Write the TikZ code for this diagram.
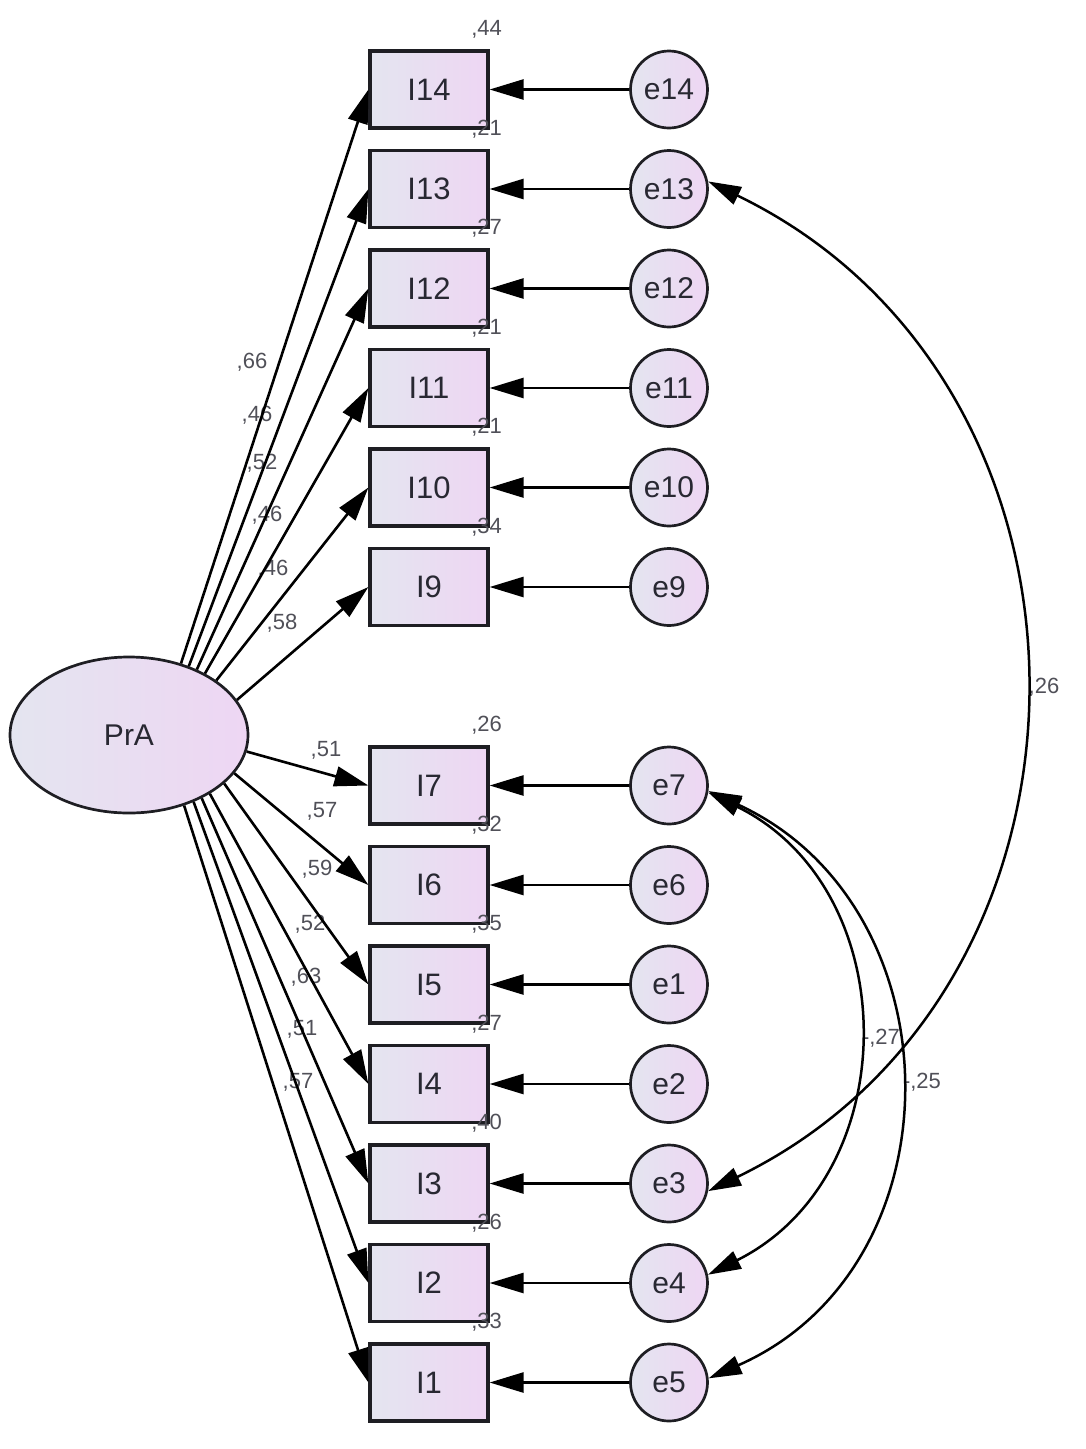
\documentclass[tikz,border=0pt]{standalone}
\usepackage{fontspec}
\setmainfont{Liberation Sans}
\usetikzlibrary{arrows.meta,calc,shapes.geometric}
\definecolor{fillL}{RGB}{228,229,240}
\definecolor{fillR}{RGB}{238,214,243}
\definecolor{edgec}{RGB}{30,30,35}
\definecolor{txtc}{RGB}{40,40,50}
\definecolor{labc}{RGB}{80,80,88}
\begin{document}
\begin{tikzpicture}[x=1pt,y=-1pt,
  obs/.style={draw=edgec, line width=3.2pt, rectangle, minimum width=118pt, minimum height=77pt, inner sep=0pt, left color=fillL, right color=fillR, text=txtc, font=\fontsize{31}{36}\selectfont},
  err/.style={draw=edgec, line width=2.7pt, circle, minimum size=77pt, inner sep=0pt, left color=fillL, right color=fillR, text=txtc, font=\fontsize{30}{36}\selectfont},
  lat/.style={draw=edgec, line width=2.7pt, ellipse, minimum width=238pt, minimum height=156pt, inner sep=0pt, left color=fillL, right color=fillR, text=txtc, font=\fontsize{30}{36}\selectfont},
  arr/.style={line width=2.6pt, draw=black, -{Triangle[length=34pt,width=20pt]}},
  darr/.style={line width=2.5pt, draw=black, {Triangle[length=33pt,width=19pt]}-{Triangle[length=33pt,width=19pt]}},
  lab/.style={text=labc, font=\fontsize{22}{24}\selectfont, inner sep=0pt}
]
\useasboundingbox (0,0) rectangle (1085,1449);

% latent
\node[lat] (PrA) at (129,735) {PrA};

% observed
\node[obs] (I14) at (429,89.5) {I14};
\node[obs] (I13) at (429,189) {I13};
\node[obs] (I12) at (429,288.5) {I12};
\node[obs] (I11) at (429,388) {I11};
\node[obs] (I10) at (429,487.5) {I10};
\node[obs] (I9) at (429,587) {I9};
\node[obs] (I7) at (429,785.5) {I7};
\node[obs] (I6) at (429,885) {I6};
\node[obs] (I5) at (429,984.5) {I5};
\node[obs] (I4) at (429,1084) {I4};
\node[obs] (I3) at (429,1183.5) {I3};
\node[obs] (I2) at (429,1283) {I2};
\node[obs] (I1) at (429,1382.5) {I1};

% errors
\node[err] (e14) at (669,89.5) {e14};
\node[err] (e13) at (669,189) {e13};
\node[err] (e12) at (669,288.5) {e12};
\node[err] (e11) at (669,388) {e11};
\node[err] (e10) at (669,487.5) {e10};
\node[err] (e9) at (669,587) {e9};
\node[err] (e7) at (669,785.5) {e7};
\node[err] (e6) at (669,885) {e6};
\node[err] (e1) at (669,984.5) {e1};
\node[err] (e2) at (669,1084) {e2};
\node[err] (e3) at (669,1183.5) {e3};
\node[err] (e4) at (669,1283) {e4};
\node[err] (e5) at (669,1382.5) {e5};

% variance labels
\node[lab] at ($(I14.north east)+(-3,-20)$) {,44};
\node[lab] at ($(I13.north east)+(-3,-20)$) {,21};
\node[lab] at ($(I12.north east)+(-3,-20)$) {,27};
\node[lab] at ($(I11.north east)+(-3,-20)$) {,21};
\node[lab] at ($(I10.north east)+(-3,-20)$) {,21};
\node[lab] at ($(I9.north east)+(-3,-20)$) {,34};
\node[lab] at ($(I7.north east)+(-3,-20)$) {,26};
\node[lab] at ($(I6.north east)+(-3,-20)$) {,32};
\node[lab] at ($(I5.north east)+(-3,-20)$) {,35};
\node[lab] at ($(I4.north east)+(-3,-20)$) {,27};
\node[lab] at ($(I3.north east)+(-3,-20)$) {,40};
\node[lab] at ($(I2.north east)+(-3,-20)$) {,26};
\node[lab] at ($(I1.north east)+(-3,-20)$) {,33};

% loading labels
\node[lab] at (252,362) {,66};
\node[lab] at (257,415) {,46};
\node[lab] at (262,463) {,52};
\node[lab] at (267,515) {,46};
\node[lab] at (273,569) {,46};
\node[lab] at (282,623) {,58};
\node[lab] at (326,750) {,51};
\node[lab] at (322,811) {,57};
\node[lab] at (317,869) {,59};
\node[lab] at (310,924) {,52};
\node[lab] at (306,977) {,63};
\node[lab] at (302,1029) {,51};
\node[lab] at (298,1082) {,57};

% covariance labels
\node[lab] at (1044,687) {,26};
\node[lab] at (881,1038) {-,27};
\node[lab] at (922,1082) {-,25};

% loadings
\draw[arr] (PrA.54) -- (I14.west);
\draw[arr] (PrA.49.5) -- (I13.west);
\draw[arr] (PrA.44.5) -- (I12.west);
\draw[arr] (PrA.39) -- (I11.west);
\draw[arr] (PrA.32) -- (I10.west);
\draw[arr] (PrA.18.5) -- (I9.west);
\draw[arr] (PrA.-8) -- (I7.west);
\draw[arr] (PrA.-20) -- (I6.west);
\draw[arr] (PrA.-27.5) -- (I5.west);
\draw[arr] (PrA.-36.5) -- (I4.west);
\draw[arr] (PrA.-41.5) -- (I3.west);
\draw[arr] (PrA.-46.5) -- (I2.west);
\draw[arr] (PrA.-52) -- (I1.west);

% error arrows
\draw[arr] (e14) -- (I14);
\draw[arr] (e13) -- (I13);
\draw[arr] (e12) -- (I12);
\draw[arr] (e11) -- (I11);
\draw[arr] (e10) -- (I10);
\draw[arr] (e9) -- (I9);
\draw[arr] (e7) -- (I7);
\draw[arr] (e6) -- (I6);
\draw[arr] (e1) -- (I5);
\draw[arr] (e2) -- (I4);
\draw[arr] (e3) -- (I3);
\draw[arr] (e4) -- (I2);
\draw[arr] (e5) -- (I1);

% covariances
\draw[darr] (e13.11) .. controls (1127,384) and (1127,988) .. (e3.-11);
\draw[darr] (e7.-10) .. controls (906,890) and (906,1176) .. (e4.12);
\draw[darr] (e7.-8) .. controls (959,906) and (963,1266) .. (e5.6);
\end{tikzpicture}
\end{document}
